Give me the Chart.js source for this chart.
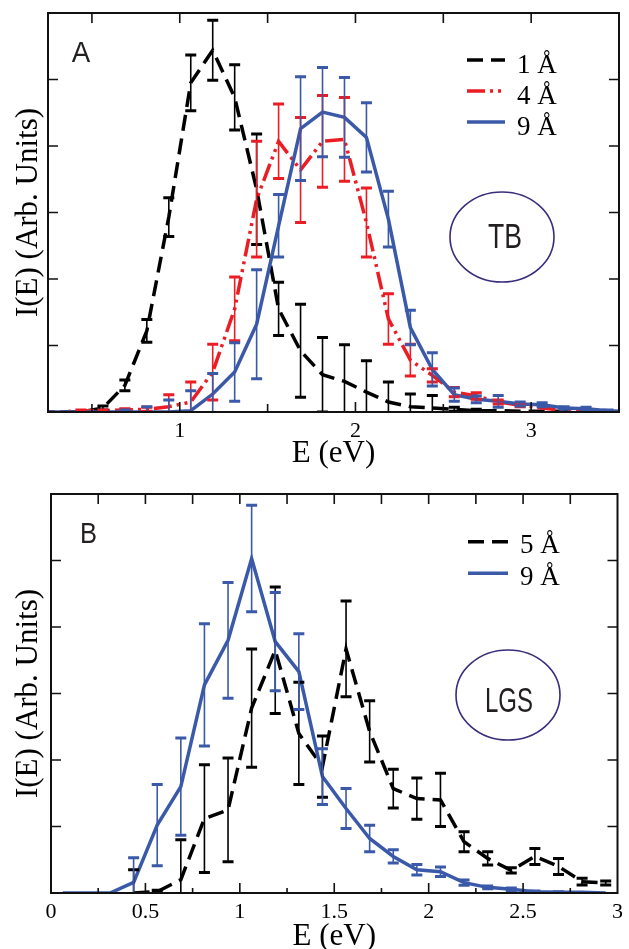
<!DOCTYPE html>
<html><head><meta charset="utf-8">
<script src="https://cdn.jsdelivr.net/npm/chart.js@4.4.1/dist/chart.umd.min.js"></script>
<style>
html,body{margin:0;padding:0;background:#fff;width:629px;height:949px;overflow:hidden}
.panel{position:absolute;left:0;width:629px}
#wa{top:0;height:475px}
#wb{top:475px;height:474px}
canvas{display:block}
</style></head><body>
<div class="panel" id="wa"><canvas id="ca" width="629" height="475" style="width:629px;height:475px"></canvas></div>
<div class="panel" id="wb"><canvas id="cb" width="629" height="474" style="width:629px;height:474px"></canvas></div>
<script>
// ---------- Panel A (TB) data ----------
const energyA = [0.1875,0.3125,0.4375,0.5625,0.6875,0.8125,0.9375,1.0625,1.1875,1.3125,1.4375,1.5625,1.6875,1.8125,1.9375,2.0625,2.1875,2.3125,2.4375,2.5625,2.6875,2.8125,2.9375,3.0625,3.1875,3.3125,3.4375,3.5625];
const tb1    = [0,0,0,0.06,0.4,1.22,2.93,4.95,5.44,4.73,3.35,1.55,0.92,0.56,0.46,0.3,0.15,0.08,0.06,0.04,0.02,0.02,0.01,0.01,0.01,0,0,0];
const tb1Err = [0,0,0,0.03,0.08,0.17,0.29,0.42,0.45,0.49,0.83,0.4,0.7,0.56,0.55,0.47,0.3,0.19,0.19,0.03,0.02,0,0,0,0,0,0,0];
const tb4    = [0,0,0.02,0.02,0.03,0.04,0.08,0.15,0.6,1.55,3.2,4.07,3.64,4.07,4.1,2.85,1.4,0.78,0.55,0.3,0.24,0.15,0.1,0.06,0.02,0.02,0.01,0];
const tb4Err = [0,0,0.01,0.01,0.02,0.03,0.18,0.3,0.42,0.48,0.87,0.56,0.79,0.69,0.63,0.52,0.38,0.24,0.1,0.07,0.05,0.03,0.02,0,0,0,0,0];
const tb9    = [0,0,0,0,0,0,0,0.02,0.27,0.6,1.32,2.8,4.26,4.51,4.43,4.13,2.9,1.27,0.64,0.26,0.19,0.16,0.12,0.11,0.06,0.05,0.02,0];
const tb9Err = [0,0,0,0,0.03,0.08,0.18,0.3,0.31,0.44,0.82,0.47,0.78,0.67,0.6,0.52,0.42,0.26,0.25,0.1,0.05,0.09,0.03,0.03,0.02,0.02,0.01,0];
const xTicksA  = [0.5,1,1.5,2,2.5,3];
const xLabelsA = [1,2,3];

// ---------- Panel B (LGS) data ----------
const energyB = [0.0625,0.1875,0.3125,0.4375,0.5625,0.6875,0.8125,0.9375,1.0625,1.1875,1.3125,1.4375,1.5625,1.6875,1.8125,1.9375,2.0625,2.1875,2.3125,2.4375,2.5625,2.6875,2.8125,2.9375];
const lgs5    = [null,null,null,0,0.02,0.2,1.12,1.25,2.78,3.65,2.4,1.9,3.67,2.43,1.57,1.42,1.4,0.77,0.52,0.34,0.55,0.4,0.17,0.15];
const lgs5Err = [null,null,null,0.35,0.02,0.6,0.81,0.78,0.89,0.95,0.77,0.46,0.72,0.46,0.29,0.31,0.4,0.15,0.1,0.04,0.12,0.12,0.05,0.03];
const lgs9    = [0,0,0,0.16,1.02,1.6,3.13,3.8,5.03,3.78,3.33,1.75,1.27,0.82,0.55,0.35,0.32,0.155,0.085,0.055,0.02,0.01,0.01,0];
const lgs9Err = [0,0,0,0.37,0.61,0.73,0.92,0.87,0.8,0.74,0.57,0.42,0.3,0.2,0.1,0.08,0.07,0.04,0.02,0.02,0.01,0.01,0,0];
const xTicksB  = [0.25,0.5,0.75,1,1.25,1.5,1.75,2,2.25,2.5,2.75];
const xLabelsB = [0,0.5,1,1.5,2,2.5,3];

const yTicks = [1,2,3,4,5];

// ---------- styles ----------
const BLACK = '#000000', RED = '#EC1C24', BLUE = '#3A59A8';
const SERIF = '"Liberation Serif", "DejaVu Serif", serif';
const SANS  = '"Liberation Sans", Arial, sans-serif';

function pts(xs, ys, es){
  const out = [];
  xs.forEach((x,i) => { if (ys[i] !== null) out.push({x:x, y:ys[i], err:es[i]}); });
  return out;
}

function line(label, xs, ys, es, color, dash, order){
  return {label, data: pts(xs, ys, es), borderColor: color, backgroundColor: color,
    borderWidth: 3.5, borderDash: dash, pointRadius: 0, tension: 0, order, fill:false};
}

function decor(o){
  return {
    id: 'decor',
    afterDatasetsDraw(chart){
      const {ctx, chartArea:a, scales:{x, y}} = chart;
      ctx.save();
      ctx.beginPath(); ctx.rect(a.left, a.top, a.right - a.left, a.bottom - a.top); ctx.clip();
      ctx.setLineDash([]);
      ctx.lineCap = 'butt';
      chart.data.datasets.forEach(ds => {
        ctx.strokeStyle = ds.borderColor;
        ds.data.forEach(p => {
          if (!(p.err > 0)) return;
          const px = x.getPixelForValue(p.x);
          const y1 = y.getPixelForValue(p.y + p.err), y0 = y.getPixelForValue(p.y - p.err);
          ctx.lineWidth = 1.6;
          ctx.beginPath(); ctx.moveTo(px, y1); ctx.lineTo(px, y0); ctx.stroke();
          ctx.lineWidth = 3;
          ctx.beginPath();
          ctx.moveTo(px - 5.5, y1); ctx.lineTo(px + 5.5, y1);
          ctx.moveTo(px - 5.5, y0); ctx.lineTo(px + 5.5, y0);
          ctx.stroke();
        });
      });
      ctx.restore();
    },
    afterDraw(chart){
      const {ctx, chartArea:a, scales:{x, y}} = chart;
      ctx.save();
      ctx.setLineDash([]);
      // frame
      ctx.strokeStyle = '#111'; ctx.lineWidth = 2;
      ctx.strokeRect(a.left, a.top, a.right - a.left, a.bottom - a.top);
      // ticks
      ctx.lineWidth = 1.6;
      ctx.beginPath();
      o.xTicks.forEach(v => {
        const px = x.getPixelForValue(v);
        const major = o.xMajor.includes(v);
        ctx.moveTo(px, a.top); ctx.lineTo(px, a.top + 10);
        ctx.moveTo(px, a.bottom); ctx.lineTo(px, a.bottom - (major ? 10 : o.minorLen));
      });
      o.yTicks.forEach(v => {
        const py = y.getPixelForValue(v);
        ctx.moveTo(a.left, py); ctx.lineTo(a.left + 10, py);
        ctx.moveTo(a.right, py); ctx.lineTo(a.right - 10, py);
      });
      ctx.stroke();
      // legend
      chart.data.datasets.slice().sort((p,q)=>p.legendRank-q.legendRank).forEach((ds, i) => {
        const ly = o.legend.y0 + i * o.legend.dy;
        ctx.save();
        ctx.strokeStyle = ds.borderColor; ctx.lineWidth = ds.borderWidth;
        ctx.setLineDash(ds.borderDash || []);
        ctx.beginPath(); ctx.moveTo(o.legend.x0, ly); ctx.lineTo(o.legend.x1, ly); ctx.stroke();
        ctx.restore();
        ctx.fillStyle = '#000';
        ctx.font = '27px ' + SERIF;
        ctx.textAlign = 'left'; ctx.textBaseline = 'alphabetic';
        ctx.fillText(ds.label, o.legend.tx, ly + o.legend.textDy);
      });
      // axis titles
      ctx.fillStyle = '#000';
      ctx.font = '31px ' + SERIF;
      ctx.textAlign = 'center'; ctx.textBaseline = 'alphabetic';
      ctx.fillText('E (eV)', (a.left + a.right) / 2, o.xTitleBase);
      ctx.save();
      ctx.translate(36.5, (a.top + a.bottom) / 2);
      ctx.rotate(-Math.PI / 2);
      ctx.fillText('I(E) (Arb. Units)', 0, 0);
      ctx.restore();
      // panel letter
      function sansText(t, cx, base, size, width, color){
        ctx.save();
        ctx.font = size + 'px ' + SANS;
        ctx.fillStyle = color;
        ctx.textAlign = 'center'; ctx.textBaseline = 'alphabetic';
        const w = ctx.measureText(t).width;
        ctx.translate(cx, base); ctx.scale(width / w, 1);
        ctx.fillText(t, 0, 0);
        ctx.restore();
      }
      sansText(o.panel.t, o.panel.cx, o.panel.base, 29, o.panel.w, '#231f20');
      // ellipse label
      ctx.strokeStyle = '#3b2c7c'; ctx.lineWidth = 1.6;
      ctx.beginPath(); ctx.ellipse(o.ell.cx, o.ell.cy, 52, 45, 0, 0, Math.PI * 2); ctx.stroke();
      sansText(o.ell.t, o.ell.tx, o.ell.base, 35, o.ell.w, '#231f20');
      ctx.restore();
    }
  };
}

function makeChart(id, datasets, xmin, xmax, labels, padding, d){
  return new Chart(document.getElementById(id), {
    type: 'line',
    data: {datasets},
    options: {
      responsive: false, animation: false, devicePixelRatio: 1,
      layout: {padding},
      plugins: {legend: {display: false}, tooltip: {enabled: false}},
      scales: {
        x: {type: 'linear', min: xmin, max: xmax,
            grid: {display: false, drawTicks: false}, border: {display: false},
            afterBuildTicks: s => { s.ticks = labels.map(v => ({value: v})); },
            afterFit: s => { s.height = 50; },
            ticks: {padding: 6, color: '#000', font: {family: SERIF, size: 22}, maxRotation: 0,
                    autoSkip: false, callback: v => String(v)}},
        y: {type: 'linear', min: 0, max: 6, display: false}
      }
    },
    plugins: [decor(d)]
  });
}

const dsA = [
  Object.assign(line('1 Å', energyA, tb1, tb1Err, BLACK, [16, 8], 2), {legendRank: 0}),
  Object.assign(line('4 Å', energyA, tb4, tb4Err, RED, [18, 5, 3, 5, 3, 5], 1), {legendRank: 1}),
  Object.assign(line('9 Å', energyA, tb9, tb9Err, BLUE, [], 0), {legendRank: 2})
];
makeChart('ca', dsA, 0.25, 3.5, xLabelsA, {left: 48, top: 13, right: 10, bottom: 13}, {
  xTicks: xTicksA, xMajor: xLabelsA, minorLen: 8, yTicks,
  legend: {x0: 467, x1: 505, y0: 60, dy: 31, tx: 517, textDy: 13},
  xTitleBase: 462,
  panel: {t: 'A', cx: 81, base: 62, w: 18.5},
  ell: {cx: 502, cy: 237, t: 'TB', tx: 505, base: 248, w: 34}
});

const dsB = [
  Object.assign(line('5 Å', energyB, lgs5, lgs5Err, BLACK, [16, 8], 1), {legendRank: 0}),
  Object.assign(line('9 Å', energyB, lgs9, lgs9Err, BLUE, [], 0), {legendRank: 1})
];
makeChart('cb', dsB, 0, 3, xLabelsB, {left: 51, top: 19, right: 7, bottom: 6}, {
  xTicks: xTicksB, xMajor: xLabelsB, minorLen: 5, yTicks,
  legend: {x0: 468, x1: 508, y0: 66.7, dy: 31.6, tx: 520, textDy: 11.5},
  xTitleBase: 470,
  panel: {t: 'B', cx: 88.5, base: 67.7, w: 17},
  ell: {cx: 508, cy: 220, t: 'LGS', tx: 509, base: 236.7, w: 48}
});
</script>
</body></html>
